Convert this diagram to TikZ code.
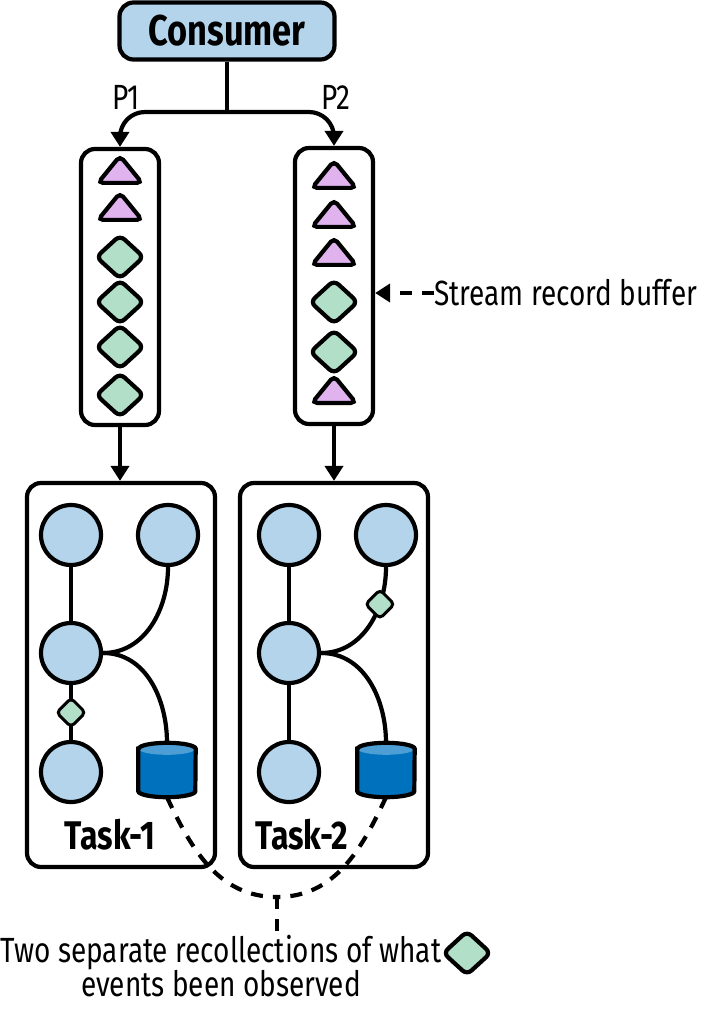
\documentclass[tikz,border=0pt]{standalone}
\usepackage{fontspec}
\setmainfont{Fira Sans}[FakeStretch=0.8]
\usetikzlibrary{shapes.geometric,arrows.meta,positioning,calc}

\definecolor{opblue}{RGB}{179,212,234}
\definecolor{evpurple}{RGB}{224,178,238}
\definecolor{evgreen}{RGB}{178,223,200}
\definecolor{dbbody}{RGB}{0,114,189}
\definecolor{dbtop}{RGB}{76,158,212}

\tikzset{
    frame/.style={draw, rounded corners=14pt, line width=4.2pt, inner sep=0pt},
    op/.style={circle, draw, fill=opblue, line width=4.2pt, minimum size=60pt, inner sep=0pt},
    gem/.style={diamond, draw, fill=evgreen, line width=4.2pt, minimum width=49pt, minimum height=45pt, inner sep=0pt, rounded corners=6pt},
    smallgem/.style={gem, line width=3pt, minimum width=30pt, minimum height=30pt, rounded corners=4pt},
    tri/.style={isosceles triangle, shape border rotate=90, isosceles triangle stretches, draw, fill=evpurple, line width=4.2pt, minimum width=44pt, minimum height=27pt, inner sep=0pt, rounded corners=5pt, anchor=south},
    store/.style={minimum width=57pt, minimum height=54pt, inner sep=0pt},
    link/.style={line width=4.2pt},
    flow/.style={line width=4.2pt, -{Triangle[length=15pt,width=18pt]}},
    hint/.style={line width=4.2pt, dash pattern=on 12pt off 10pt},
    lbl/.style={font=\fontsize{35}{31}\selectfont, inner sep=0pt},
    title/.style={font=\fontsize{40}{44}\selectfont\bfseries, inner sep=0pt},
}

% data store drawn round a plain node
\newcommand{\drawstore}[1]{%
    \fill[dbbody] ($(#1.north west)+(0,6)$) -- ($(#1.south west)+(0,-6)$)
        arc[start angle=180, end angle=360, x radius=28.5pt, y radius=6pt]
        -- ($(#1.north east)+(0,6)$) -- cycle;
    \fill[dbtop] ($(#1.north)+(0,6)$) ellipse[x radius=28.5pt, y radius=6pt];
    \draw[link] ($(#1.north west)+(0,6)$) -- ($(#1.south west)+(0,-6)$)
        arc[start angle=180, end angle=360, x radius=28.5pt, y radius=6pt]
        -- ($(#1.north east)+(0,6)$)
        arc[start angle=0, end angle=180, x radius=28.5pt, y radius=6pt] -- cycle;
}

\begin{document}
\begin{tikzpicture}[x=1pt, y=-1pt]
    \useasboundingbox (0,0) rectangle (706,1011);

    % Consumer and partitions
    \node[frame, fill=opblue, minimum width=215pt, minimum height=57pt, title, font=\fontsize{43}{46}\selectfont\bfseries] (consumer) at (227,31) {Consumer};
    \coordinate (fork) at (227,112);
    \node[lbl] (p1) at (126,97) {P1};
    \node[lbl] (p2) at (336,97) {P2};

    % Stream record buffers
    \node[frame, minimum width=78pt, minimum height=276pt] (buf1) at (120,287) {};
    \node[frame, minimum width=78pt, minimum height=276pt] (buf2) at (334,286) {};

    % triangles are placed by their base
    \node[tri] (b1e1) at (120,185) {};
    \node[tri] (b1e2) at (120,222) {};
    \node[gem] (b1e3) at (120,257) {};
    \node[gem] (b1e4) at (120,302) {};
    \node[gem] (b1e5) at (120,347) {};
    \node[gem] (b1e6) at (120,395) {};

    \node[tri] (b2e1) at (334,190) {};
    \node[tri] (b2e2) at (334,229) {};
    \node[tri] (b2e3) at (334,267) {};
    \node[gem] (b2e4) at (334,302) {};
    \node[gem] (b2e5) at (334,352) {};
    \node[tri] (b2e6) at (334,405) {};

    \node[lbl, anchor=west] (bufnote) at (434,293) {Stream record buffer};

    % Tasks
    \node[frame, minimum width=188pt, minimum height=384pt] (task1) at (121,675) {};
    \node[frame, minimum width=188pt, minimum height=384pt] (task2) at (334,675) {};

    \node[op] (t1op1) at (71,535) {};
    \node[op] (t1op2) at (168,535) {};
    \node[op] (t1op3) at (71,653) {};
    \node[op] (t1op4) at (71,772) {};
    \node[store] (t1db) at (167,770) {};
    \node[title] (t1name) at (110,835) {Task-1};

    \node[op] (t2op1) at (289,535) {};
    \node[op] (t2op2) at (386,535) {};
    \node[op] (t2op3) at (289,653) {};
    \node[op] (t2op4) at (289,772) {};
    \node[store] (t2db) at (386,770) {};
    \node[title] (t2name) at (302,835) {Task-2};

    % Note
    \node[lbl, align=center] (note) at (221,966) {Two separate recollections of what\\events been observed};
    \node[gem] (notegem) at (467,953) {};
    \coordinate (join) at (277,897);

    % Partition arrows
    \draw[link] (consumer.south) -- (fork);
    \draw[flow, rounded corners=25pt] (fork) -| (buf1.north);
    \draw[flow, rounded corners=25pt] (fork) -| (buf2.north);
    \draw[flow] (buf1.south) -- (buf1.south |- task1.north);
    \draw[flow] (buf2.south) -- (buf2.south |- task2.north);
    \draw[hint, -{Triangle[length=15pt,width=18pt]}] (bufnote.west) -- (bufnote.west -| buf2.east);

    % Task graphs
    \draw[link] (t1op1) -- (t1op3);
    \draw[link] (t1op3) -- node[smallgem] (t1gem) {} (t1op4);
    \draw[link] (t1op2.south) to[out=-90, in=0] (t1op3.east);
    \draw[link] (t1op3.east) to[out=0, in=90] (t1db.north);
    \drawstore{t1db}

    \draw[link] (t2op1) -- (t2op3);
    \draw[link] (t2op3) -- (t2op4);
    \draw[link] (t2op2.south) to[out=-90, in=0] node[pos=0.3, smallgem] (t2gem) {} (t2op3.east);
    \draw[link] (t2op3.east) to[out=0, in=90] (t2db.north);
    \drawstore{t2db}

    % Recollections
    \draw[hint] (t1db.south) to[out=-65, in=180] (join);
    \draw[hint] (t2db.south) to[out=-115, in=0] (join);
    \draw[hint] (join) -- (join |- note.north);
\end{tikzpicture}
\end{document}
